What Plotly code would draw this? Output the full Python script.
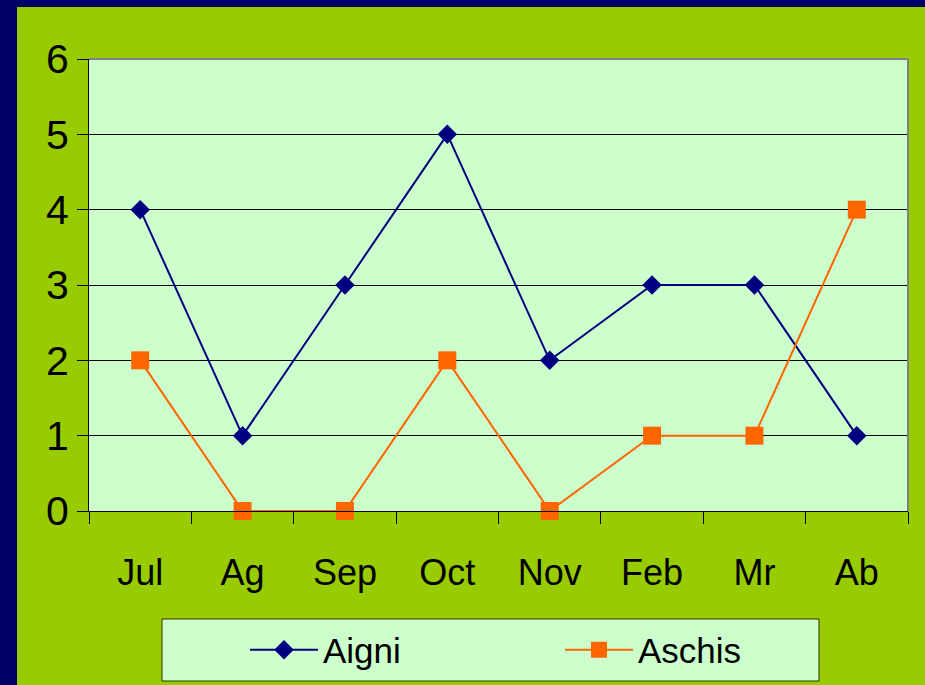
import plotly.graph_objects as go

months = ["Jul", "Ag", "Sep", "Oct", "Nov", "Feb", "Mr", "Ab"]
aigni = [4, 1, 3, 5, 2, 3, 3, 1]
aschis = [2, 0, 0, 2, 0, 1, 1, 4]
y_ticks = [0, 1, 2, 3, 4, 5, 6]

W, H = 925, 685
L, R, T, B = 89, 908, 59, 511
PW, PH = R - L, B - T


def px_x(p):
    return (p - L) / PW


def px_y(p):
    return (B - p) / PH


NAVY = "#000066"
GREEN = "#99CC00"
PALE = "#CCFFCC"
SANS = "Liberation Sans, Arial, sans-serif"

fig = go.Figure()
fig.add_trace(go.Scatter(
    x=months, y=aigni, name="Aigni", mode="lines+markers",
    line=dict(color="#000080", width=2),
    marker=dict(symbol="diamond", size=15, color="#000080"),
    cliponaxis=False,
))
fig.add_trace(go.Scatter(
    x=months, y=aschis, name="Aschis", mode="lines+markers",
    line=dict(color="#FF6600", width=2),
    marker=dict(symbol="square", size=18, color="#FF6600"),
    cliponaxis=False,
))

shapes = [
    # navy frame strips
    dict(type="rect", xref="paper", yref="paper", x0=px_x(0), x1=px_x(17), y0=px_y(H), y1=px_y(0),
         fillcolor=NAVY, line=dict(width=0), layer="below"),
    dict(type="rect", xref="paper", yref="paper", x0=px_x(0), x1=px_x(W), y0=px_y(7), y1=px_y(0),
         fillcolor=NAVY, line=dict(width=0), layer="below"),
    # legend box
    dict(type="rect", xref="paper", yref="paper", x0=px_x(162), x1=px_x(819), y0=px_y(681), y1=px_y(619),
         fillcolor=PALE, line=dict(color="#333300", width=1), layer="below"),
    # gray top/right plot border
    dict(type="line", xref="paper", yref="paper", x0=0, x1=1, y0=1, y1=1,
         line=dict(color="#808080", width=2), layer="above"),
    dict(type="line", xref="paper", yref="paper", x0=1, x1=1, y0=0, y1=1,
         line=dict(color="#808080", width=2), layer="above"),
]

fig.update_layout(
    width=W, height=H,
    margin=dict(l=L, r=W - R, t=T, b=H - B, autoexpand=False),
    paper_bgcolor=GREEN,
    plot_bgcolor=PALE,
    shapes=shapes,
    showlegend=True,
    legend=dict(
        orientation="h", x=px_x(245), xanchor="left", y=px_y(650), yanchor="middle",
        bgcolor="rgba(0,0,0,0)", borderwidth=0,
        font=dict(family=SANS, size=35, color="black"),
        entrywidth=232, itemwidth=68,
    ),
    xaxis=dict(
        type="category", range=[-0.5, 7.5],
        showline=True, linecolor="black", linewidth=1,
        ticks="outside", tickson="boundaries", ticklen=12, tickcolor="black", tickwidth=1,
        showgrid=False,
        tickfont=dict(family=SANS, size=36, color="black"),
        ticklabelstandoff=30,
    ),
    yaxis=dict(
        range=[0, 6], tickvals=y_ticks,
        showline=True, linecolor="black", linewidth=1,
        ticks="outside", ticklen=11, tickcolor="black", tickwidth=1,
        showgrid=True, gridcolor="black", gridwidth=1, zeroline=False,
        tickfont=dict(family=SANS, size=41, color="black"),
    ),
)

fig.write_html(
    "out.html",
    config={"displayModeBar": False},
    post_script="document.body.style.margin='0';document.body.style.background='#000066';",
)
